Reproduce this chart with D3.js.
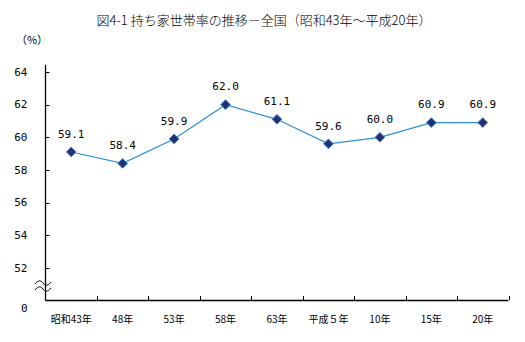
<!DOCTYPE html>
<html><head><meta charset="utf-8">
<script src="https://cdn.jsdelivr.net/npm/d3@7"></script>
<style>body{margin:0;background:#fff}svg{display:block}</style>
</head><body>
<script>
const title = "図4-1 持ち家世帯率の推移－全国（昭和43年～平成20年）";
const unitLabel = "（%）";
const categories = ["昭和43年","48年","53年","58年","63年","平成５年","10年","15年","20年"];
const values = [59.1, 58.4, 59.9, 62.0, 61.1, 59.6, 60.0, 60.9, 60.9];
const yTicks = [52, 54, 56, 58, 60, 62, 64];
const baseLabel = "0";

const W = 525, H = 342;
const font = "'Noto Sans CJK JP', 'DejaVu Sans', sans-serif";
const svg = d3.select("body").append("svg").attr("width", W).attr("height", H);

const x = d3.scaleBand().domain(categories).range([45.5, 508.5]);
const y = d3.scaleLinear().domain([50, 64]).range([300.5, 72]);

svg.append("text").attr("x", 264).attr("y", 25).attr("text-anchor", "middle")
  .attr("font-family", font).attr("font-size", 13).attr("font-weight", 300).attr("fill", "#000").text(title);
svg.append("text").attr("x", 32).attr("y", 44).attr("text-anchor", "middle")
  .attr("font-family", font).attr("font-size", 11).attr("fill", "#000").text(unitLabel);

// Y axis
const yAxis = svg.append("g").attr("transform", "translate(45.5,0)");
yAxis.append("line").attr("y1", 65).attr("y2", 300.5).attr("stroke", "#000").attr("stroke-width", 1.3);
yAxis.selectAll(".yt").data(yTicks).join("line")
  .attr("x1", 0).attr("x2", 4).attr("y1", d => Math.round(y(d)) + 0.5).attr("y2", d => Math.round(y(d)) + 0.5)
  .attr("stroke", "#000");
yAxis.selectAll(".yl").data(yTicks).join("text")
  .attr("x", -18).attr("y", d => y(d)).attr("dy", "0.35em").attr("text-anchor", "end")
  .attr("font-family", "'DejaVu Sans Mono', monospace").attr("font-size", 11).attr("fill", "#000").text(d => d);
yAxis.append("text").attr("x", -18).attr("y", 308).attr("dy", "0.35em").attr("text-anchor", "end")
  .attr("font-family", "'DejaVu Sans Mono', monospace").attr("font-size", 11).attr("fill", "#000").text(baseLabel);

// break symbol
const brk = svg.append("g").attr("fill", "none").attr("stroke", "#000").attr("stroke-width", 1);
[283, 289].forEach(cy => {
  brk.append("path").attr("d", `M35,${cy+1} C38,${cy-3} 41,${cy-3} 43,${cy} S48,${cy+3} 51,${cy-1}`);
});

// X axis
const xAxis = svg.append("g");
xAxis.append("line").attr("x1", 45.5).attr("x2", 508.5).attr("y1", 300.5).attr("y2", 300.5).attr("stroke", "#000").attr("stroke-width", 1.3);
const edges = categories.map(c => x(c) + x.bandwidth());
xAxis.selectAll(".xt").data(edges).join("line")
  .attr("x1", d => Math.round(d) + 0.5).attr("x2", d => Math.round(d) + 0.5).attr("y1", 300).attr("y2", 296).attr("stroke", "#000");
xAxis.selectAll(".xl").data(categories).join("text")
  .attr("x", d => x(d) + x.bandwidth() / 2).attr("y", 319).attr("dy", "0.35em").attr("text-anchor", "middle")
  .attr("font-family", font).attr("font-size", 10).attr("fill", "#000").text(d => d);

// Line
const pts = categories.map((c, i) => [x(c) + x.bandwidth() / 2, y(values[i])]);
svg.append("path").attr("d", d3.line()(pts)).attr("fill", "none").attr("stroke", "#2f8fd3").attr("stroke-width", 1.2);

svg.selectAll(".mk").data(pts).join("path")
  .attr("d", d3.symbol().type(d3.symbolDiamond2).size(60))
  .attr("transform", d => `translate(${d[0]},${d[1]})`)
  .attr("fill", "#27306e").attr("stroke", "#3a7fd8").attr("stroke-width", 1);

svg.selectAll(".dl").data(pts).join("text")
  .attr("x", d => d[0]).attr("y", d => d[1] - 18).attr("dy", "0.35em").attr("text-anchor", "middle")
  .attr("font-family", "'DejaVu Sans Mono', monospace").attr("font-size", 11).attr("fill", "#000")
  .text((d, i) => values[i].toFixed(1));
</script>
</body></html>
